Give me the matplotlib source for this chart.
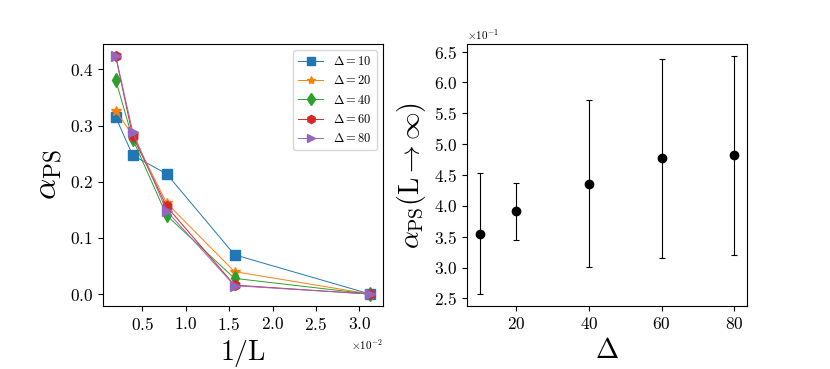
import numpy as np
import matplotlib
matplotlib.use("Agg")
import matplotlib.pyplot as plt
from matplotlib.ticker import MultipleLocator

plt.rcParams['font.family'] = 'serif'
plt.rcParams['font.serif'] = ['cmr10']
plt.rcParams['mathtext.fontset'] = 'cm'
plt.rcParams['axes.formatter.use_mathtext'] = True
plt.rcParams['axes.unicode_minus'] = False

L = np.array([512, 256, 128, 64, 32])
deltas = [10, 20, 40, 60, 80]
alpha_10 = [0.315, 0.247, 0.214, 0.070, 0.0]
alpha_20 = [0.326, 0.283, 0.162, 0.040, 0.0]
alpha_40 = [0.381, 0.276, 0.140, 0.028, 0.0]
alpha_60 = [0.423, 0.281, 0.156, 0.016, 0.0]
alpha_80 = [0.424, 0.289, 0.148, 0.015, 0.0]

alpha_inf = [0.355, 0.391, 0.436, 0.477, 0.482]
alpha_err = [0.098, 0.046, 0.135, 0.161, 0.161]

fig = plt.figure(figsize=(8.3, 3.69), dpi=100)
ax1 = fig.add_axes([103/830, 1 - 306/369, 280/830, 262/369])
ax2 = fig.add_axes([467/830, 1 - 306/369, 280/830, 262/369])

markers = ["s", "*", "d", "h", ">"]
for a, m, d in zip([alpha_10, alpha_20, alpha_40, alpha_60, alpha_80], markers, deltas):
    ax1.plot(1 / L, a, marker=m, markersize=7, linewidth=0.7, label=rf"$\Delta = {d}$")

ax1.ticklabel_format(axis="x", style="sci", scilimits=(0, 0))
ax1.xaxis.set_major_locator(MultipleLocator(0.005))
ax1.xaxis.get_offset_text().set_fontsize(8)
ax1.set_xlabel(r"$1/\rm L$", fontsize=20)
ax1.set_ylabel(r"$\alpha_{\rm PS}$", fontsize=24)
ax1.tick_params(labelsize=12.5)
ax1.legend(fontsize=9, markerscale=0.85)

ax2.errorbar(deltas, alpha_inf, yerr=alpha_err, fmt="o", color="k",
             markersize=6, elinewidth=0.8, capsize=2.5, capthick=0.8)
ax2.ticklabel_format(axis="y", style="sci", scilimits=(0, 0))
ax2.yaxis.set_major_locator(MultipleLocator(0.05))
ax2.yaxis.get_offset_text().set_fontsize(8)
ax2.set_xlabel(r"$\Delta$", fontsize=20)
ax2.set_ylabel(r"$\alpha_{\rm PS}(\rm L\rightarrow\infty)$", fontsize=20)
ax2.tick_params(labelsize=12.5)

fig.savefig("out.png", dpi=100)
